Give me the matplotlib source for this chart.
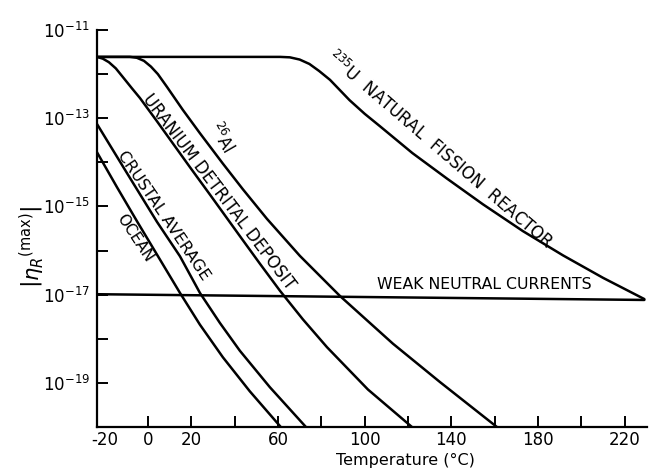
import numpy as np
import matplotlib
matplotlib.use("Agg")
import matplotlib.pyplot as plt

# temperature (deg C) and log10 of |eta_R(max)|
t_235u = [-23.5, 61, 65.5, 70, 74.5, 79, 84, 88.5, 93, 100, 107, 122, 138, 154.5, 173, 191.5, 210, 229]
l_235u = [-11.61, -11.61, -11.62, -11.67, -11.77, -11.93, -12.13, -12.36, -12.59, -12.90, -13.18,
          -13.79, -14.37, -14.95, -15.56, -16.11, -16.62, -17.10]

t_al26 = [-23.5, -8.3, -5.1, -1.8, 1.4, 4.6, 8.8, 16.1, 24.0, 34.6, 43.8, 54.9, 70.1, 88.6, 113.0, 134.7, 161.0]
l_al26 = [-11.61, -11.61, -11.63, -11.70, -11.83, -12.00, -12.29, -12.81, -13.34, -14.03, -14.61,
          -15.28, -16.12, -17.03, -18.11, -18.98, -20.0]

t_udd = [-23.5, -20.8, -18.0, -14.8, -11.5, -7.4, -3.7, 4.2, 11.5, 19.4, 28.6, 42.4, 51.7, 60.9, 71.5, 82.6, 101.5, 121.8]
l_udd = [-11.61, -11.65, -11.73, -11.87, -12.07, -12.32, -12.54, -13.07, -13.57, -14.11, -14.73,
         -15.67, -16.30, -16.91, -17.56, -18.19, -19.15, -20.0]

t_crust = [-23.5, -9.7, 4.2, 14.8, 24.0, 33.2, 42.4, 56.3, 72.9]
l_crust = [-13.13, -14.24, -15.35, -16.13, -16.96, -17.64, -18.27, -19.10, -20.0]

t_ocean = [-23.5, -14.3, -5.1, 14.8, 24.0, 34.6, 47.0, 61.3]
l_ocean = [-13.77, -14.56, -15.33, -16.96, -17.68, -18.42, -19.19, -20.0]

t_weak = [-23.5, 229]
l_weak = [-16.99, -17.12]

xticks = [-20, 0, 20, 40, 60, 80, 100, 120, 140, 160, 180, 200, 220]
xticklabels = ['-20', '0', '20', '', '60', '', '100', '', '140', '', '180', '', '220']
ydecades = [-20, -19, -18, -17, -16, -15, -14, -13, -12, -11]

fig = plt.figure(figsize=(6.55, 4.7), dpi=100)
ax = fig.add_axes([0.148, 0.0915, 0.8397, 0.8447])

lw = 1.8
for t, l in [(t_235u, l_235u), (t_al26, l_al26), (t_udd, l_udd),
             (t_crust, l_crust), (t_ocean, l_ocean), (t_weak, l_weak)]:
    ax.plot(t, 10.0 ** np.array(l), color='black', lw=lw, solid_capstyle='round',
            solid_joinstyle='round')

ax.set_yscale('log')
ax.set_xlim(-23.5, 230.2)
ax.set_ylim(1e-20, 1e-11)

ax.set_xticks(xticks)
ax.set_xticklabels(xticklabels)
ax.set_yticks([10.0 ** d for d in ydecades])
ax.set_yticklabels(['' if d % 2 == 0 else r'$10^{%d}$' % d for d in ydecades])
ax.yaxis.set_minor_locator(matplotlib.ticker.NullLocator())
ax.tick_params(direction='in', length=8, width=1.4, labelsize=12, pad=5)
ax.tick_params(axis='x', pad=3)
# the -20 tick sits on the spine in the original
ax.xaxis.get_major_ticks()[0].tick1line.set_visible(False)

for s in ['top', 'right']:
    ax.spines[s].set_visible(False)
for s in ['left', 'bottom']:
    ax.spines[s].set_linewidth(1.6)

ax.set_xlabel('Temperature (°C)', fontsize=11.5)
ax.xaxis.set_label_coords(0.56, -0.066)
fig.text(32 / 655, 1 - 247 / 470, r'$\left|\eta_R{}^{(\mathrm{max})}\right|$',
         rotation=90, fontsize=15, ha='center', va='center')

# curve labels
lab = dict(ha='center', va='center', rotation_mode='anchor')
ax.text(-6.0, 10 ** -15.72, 'OCEAN', rotation=-56.6, fontsize=11, **lab)
ax.text(7.4, 10 ** -15.20, 'CRUSTAL AVERAGE', rotation=-55.9, fontsize=11.5, **lab)
ax.text(32.7, 10 ** -14.67, 'URANIUM DETRITAL DEPOSIT', rotation=-52.8, fontsize=12, **lab)
ax.text(33.7, 10 ** -13.45, r'$^{26}\mathrm{Al}$', rotation=-60, fontsize=12, **lab)
ax.text(134.7, 10 ** -13.72, r'$^{235}$U  NATURAL  FISSION  REACTOR', rotation=-40.7,
        fontsize=12, **lab)
ax.text(155.0, 10 ** -16.78, 'WEAK NEUTRAL CURRENTS', rotation=0, fontsize=11.3, **lab)

fig.savefig('out.png', dpi=100)
